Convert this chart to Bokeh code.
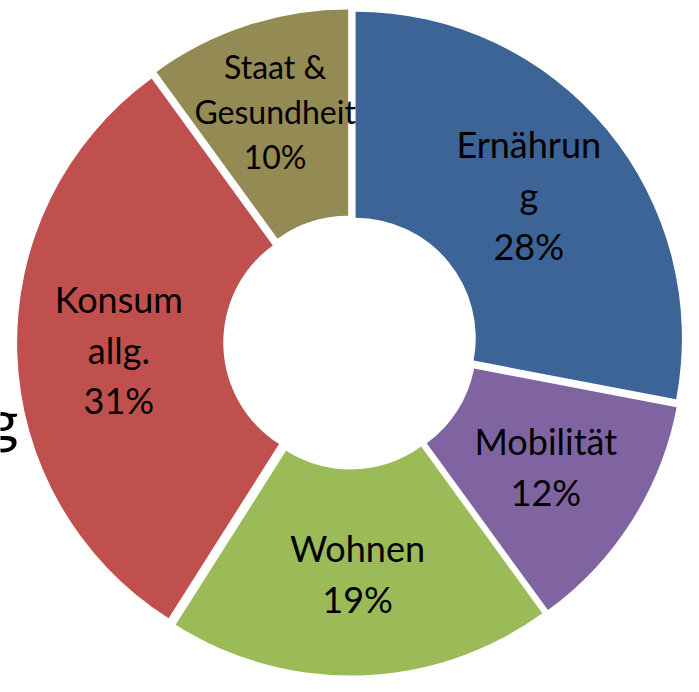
import math
from bokeh.plotting import figure
from bokeh.models import ColumnDataSource, Range1d
from bokeh.core.properties import value
from bokeh.embed import file_html
from bokeh.resources import INLINE

# ---- data ----
categories = ["Ernährung", "Mobilität", "Wohnen", "Konsum allg.", "Staat & Gesundheit"]
label_lines = ["Ernährun\ng", "Mobilität", "Wohnen", "Konsum\nallg.", "Staat &\nGesundheit"]
shares = [28, 12, 19, 31, 10]
colors = ["#3C6496", "#8064A2", "#9BBB59", "#C0504D", "#948A54"]

# ---- layout: data units = reference pixels, drawn into a 683x676 figure ----
REF_W, REF_H = 699, 692
W, H = 683, 676
K = W / REF_W                      # px per data unit
CX, CY = 358, 350                  # donut centre (reference px, y down)
R_OUT, R_IN = 334, 123
EXPLODE = 7
R_LABEL = 237

total = float(sum(shares))
cum = 0.0
wx, wy, starts, ends = [], [], [], []
tx, ty, tt, ts = [], [], [], []
for cat, lab, s in zip(categories, label_lines, shares):
    a0 = cum / total * 360.0
    a1 = (cum + s) / total * 360.0
    cum += s
    mid = math.radians((a0 + a1) / 2.0)
    wx.append(CX + EXPLODE * math.sin(mid))
    wy.append(-CY + EXPLODE * math.cos(mid))
    starts.append(math.radians(90 - a1))
    ends.append(math.radians(90 - a0))
    # label block centred on the slice's middle angle
    small = s <= 10
    r_lab = R_LABEL + (12 if small else 0)
    lcx = CX + r_lab * math.sin(mid)
    lcy = -CY + r_lab * math.cos(mid)
    lines = lab.split("\n") + [f"{s}%"]
    step = 46 if small else 52
    fs = f"{round((33 if small else 37) * K)}px"
    n = len(lines)
    for i, t in enumerate(lines):
        tx.append(lcx)
        ty.append(lcy + ((n - 1) / 2.0 - i) * step)
        tt.append(t)
        ts.append(fs)

wedges = ColumnDataSource(dict(x=wx, y=wy, start=starts, end=ends, color=colors, cat=categories))
labels = ColumnDataSource(dict(x=tx, y=ty, text=tt, size=ts))

p = figure(width=W, height=H, output_backend="svg", toolbar_location=None,
           x_range=Range1d(0, REF_W), y_range=Range1d(-REF_H, 0),
           min_border=0)
p.axis.visible = False
p.grid.visible = False
p.outline_line_color = None
p.background_fill_color = "white"
p.border_fill_color = "white"

p.annular_wedge(x="x", y="y", inner_radius=R_IN, outer_radius=R_OUT,
                start_angle="start", end_angle="end", direction="anticlock",
                fill_color="color", line_color=None, source=wedges)

p.text(x="x", y="y", text="text", source=labels,
       text_font=value("Lato"), text_font_size="size",
       text_align="center", text_baseline="middle", text_color="black")

# cropped fragment of a large label at the left edge (cut off in the reference too)
p.text(x=[-13], y=[-429], text=["g"], text_font=value("Lato"),
       text_font_size=f"{round(60 * K)}px", text_align="left",
       text_baseline="alphabetic", text_color="black")

open("out.html", "w").write(file_html(p, INLINE))
